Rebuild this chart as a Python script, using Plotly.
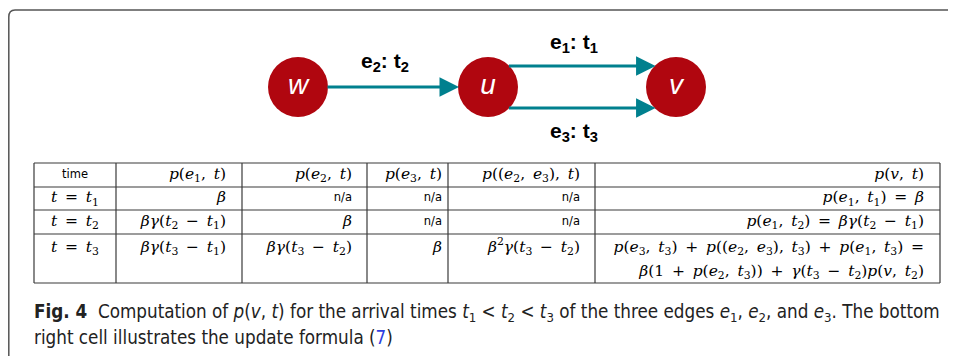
import plotly.graph_objects as go

# ---------------------------------------------------------------------------
# Data
# ---------------------------------------------------------------------------
node_names = ["w", "u", "v"]
node_x = [298, 488, 676]
node_y = [87, 87, 87]

# edges: source index, target index, vertical offset from node centre, label
edge_src = [0, 1, 1]
edge_dst = [1, 2, 2]
edge_dy = [0, -21, 21]
edge_labels = ["e<sub>2</sub>: t<sub>2</sub>", "e<sub>1</sub>: t<sub>1</sub>", "e<sub>3</sub>: t<sub>3</sub>"]
edge_label_dy = [-25, -44, 45]


def t(n):
    return f"<i>t</i><sub>{n}</sub>"


def e(n):
    return f"<i>e</i><sub>{n}</sub>"


table_header = [
    "time",
    f"<i>p</i>({e(1)}, <i>t</i>)",
    f"<i>p</i>({e(2)}, <i>t</i>)",
    f"<i>p</i>({e(3)}, <i>t</i>)",
    f"<i>p</i>(({e(2)}, {e(3)}), <i>t</i>)",
    "<i>p</i>(<i>v</i>, <i>t</i>)",
]
col_time = [f"<i>t</i> = {t(1)}", f"<i>t</i> = {t(2)}", f"<i>t</i> = {t(3)}"]
col_pe1 = ["<i>β</i>", f"<i>βγ</i>({t(2)} − {t(1)})", f"<i>βγ</i>({t(3)} − {t(1)})"]
col_pe2 = ["n/a", "<i>β</i>", f"<i>βγ</i>({t(3)} − {t(2)})"]
col_pe3 = ["n/a", "n/a", "<i>β</i>"]
col_pe23 = ["n/a", "n/a", f"<i>β</i><sup>2</sup><i>γ</i>({t(3)} − {t(2)})"]
col_pv = [
    f"<i>p</i>({e(1)}, {t(1)}) = <i>β</i>",
    f"<i>p</i>({e(1)}, {t(2)}) = <i>βγ</i>({t(2)} − {t(1)})",
    f"<i>p</i>({e(3)}, {t(3)}) + <i>p</i>(({e(2)}, {e(3)}), {t(3)}) + <i>p</i>({e(1)}, {t(3)}) ="
    f"<br><i>β</i>(1 + <i>p</i>({e(2)}, {t(3)})) + <i>γ</i>({t(3)} − {t(2)})<i>p</i>(<i>v</i>, {t(2)})",
]
col_widths = [82, 126, 125, 81, 147, 345]

caption_1 = (
    "<b>Fig. 4</b>  Computation of <i>p</i>(<i>v</i>, <i>t</i>) for the arrival times "
    "<i>t</i><sub>1</sub> &lt; <i>t</i><sub>2</sub> &lt; <i>t</i><sub>3</sub> of the three edges "
    "<i>e</i><sub>1</sub>, <i>e</i><sub>2</sub>, and <i>e</i><sub>3</sub>. The bottom"
)
caption_2 = "right cell illustrates the update formula (<span style='color:#2f3ee0'>7</span>)"

# the page body keeps an 8px margin, so the figure covers page pixels 8..956
OFF = 8
W, H = 956 - OFF, 356 - OFF
RED = "#b0060f"
TEAL = "#00808e"
GRID = "#3a3a3a"
R = 30
SANS = "DejaVu Sans"
SERIF = "DejaVu Serif"

TABLE_LEFT = 34
ROW_EDGES = [163, 187, 210, 234, 283]
LINE_GAP = 24                      # distance between the two text lines of the last row
COL_PAD = [0, 16, 15, 6, 15, 16]   # right padding of right-aligned columns


def math_spacing(s):
    # TeX-like spacing: a bit wider around binary operators and after commas
    for op in ("=", "+", "−"):
        s = s.replace(f" {op}", f"\u2002{op}").replace(f"{op} ", f"{op}\u2002")
    return s.replace(", ", ",\u2002")


fig = go.Figure()

# nodes
fig.add_trace(go.Scatter(
    x=node_x, y=node_y, mode="markers+text",
    marker=dict(size=2 * R, color=RED, line=dict(width=0)),
    text=[f"<i>{n}</i>" for n in node_names],
    textposition="middle center",
    textfont=dict(family="Liberation Sans", size=28, color="white"),
    hoverinfo="skip", showlegend=False,
))

# edges as arrows + labels
for s, d, dy, lab, ldy in zip(edge_src, edge_dst, edge_dy, edge_labels, edge_label_dy):
    off = (R ** 2 - dy ** 2) ** 0.5
    y = node_y[s] + dy
    x0 = node_x[s] + off - 2
    x1 = node_x[d] - off + 1
    fig.add_annotation(
        x=x1, y=y, ax=x0, ay=y, xref="x", yref="y", axref="x", ayref="y",
        showarrow=True, arrowhead=2, arrowsize=1.3, arrowwidth=3, arrowcolor=TEAL, text="",
    )
    fig.add_annotation(
        x=(node_x[s] + node_x[d]) / 2 - 8, y=node_y[s] + ldy, xref="x", yref="y",
        text=f"<b>{lab}</b>", showarrow=False,
        font=dict(family="Liberation Sans", size=21, color="black"),
    )

# ---------------------------------------------------------------------------
# Table: grid lines + cell text placed on the pixel axes
# ---------------------------------------------------------------------------
col_edges = [TABLE_LEFT]
for w in col_widths:
    col_edges.append(col_edges[-1] + w)
top, bottom = ROW_EDGES[0], ROW_EDGES[-1]

for xe in col_edges:
    fig.add_shape(type="line", xref="x", yref="y", x0=xe, x1=xe, y0=top, y1=bottom,
                  line=dict(color=GRID, width=1.2))
for ye in ROW_EDGES:
    fig.add_shape(type="line", xref="x", yref="y", x0=col_edges[0], x1=col_edges[-1], y0=ye, y1=ye,
                  line=dict(color=GRID, width=1.2))

columns = [col_time, col_pe1, col_pe2, col_pe3, col_pe23, col_pv]
cells = {"serif": ([], [], [], []), "sans": ([], [], [], [])}


def put(kind, x, y, text, pos):
    xs, ys, ts, ps = cells[kind]
    xs.append(x)
    ys.append(y)
    ts.append(text)
    ps.append(pos)


rows = [table_header] + [[col[r] for col in columns] for r in range(len(col_time))]
for r, row in enumerate(rows):
    last = r == len(rows) - 1
    yc = (ROW_EDGES[r] + ROW_EDGES[r + 1]) / 2 if not last else ROW_EDGES[r] + 14
    for c, val in enumerate(row):
        kind = "sans" if val in ("time", "n/a") else "serif"
        if c == 0:
            x, pos = (col_edges[c] + col_edges[c + 1]) / 2, "middle center"
        else:
            x, pos = col_edges[c + 1] - COL_PAD[c], "middle left"
        for k, line in enumerate(val.split("<br>")):
            put(kind, x, yc + k * LINE_GAP, math_spacing(line), pos)

for kind, fam, size in [("serif", SERIF, 15.5), ("sans", SANS, 11.5)]:
    xs, ys, ts, ps = cells[kind]
    fig.add_trace(go.Scatter(
        x=xs, y=ys, text=ts, mode="text", textposition=ps,
        textfont=dict(family=fam, size=size, color="black"),
        hoverinfo="skip", showlegend=False,
    ))

# caption
for i, cap in enumerate([caption_1, caption_2]):
    fig.add_annotation(
        x=32, y=313 + 24 * i, xref="x", yref="y", xanchor="left", yanchor="middle",
        text=cap, showarrow=False, align="left",
        font=dict(family="DejaVu Sans Condensed, sans-serif", size=18.7, color="#222"),
    )

# frame with rounded top-left corner
fig.add_shape(
    type="path", xref="x", yref="y",
    path="M 8.8,360 L 8.8,17 Q 8.8,10 15,10 L 960,10",
    line=dict(color="#555", width=1.5),
)

fig.update_layout(
    width=W, height=H, margin=dict(l=0, r=0, t=0, b=0),
    paper_bgcolor="white", plot_bgcolor="white",
    xaxis=dict(range=[OFF, 956], visible=False, domain=[0, 1], fixedrange=True),
    yaxis=dict(range=[356, OFF], visible=False, domain=[0, 1], fixedrange=True),
    showlegend=False,
)

fig.write_html("out.html")
